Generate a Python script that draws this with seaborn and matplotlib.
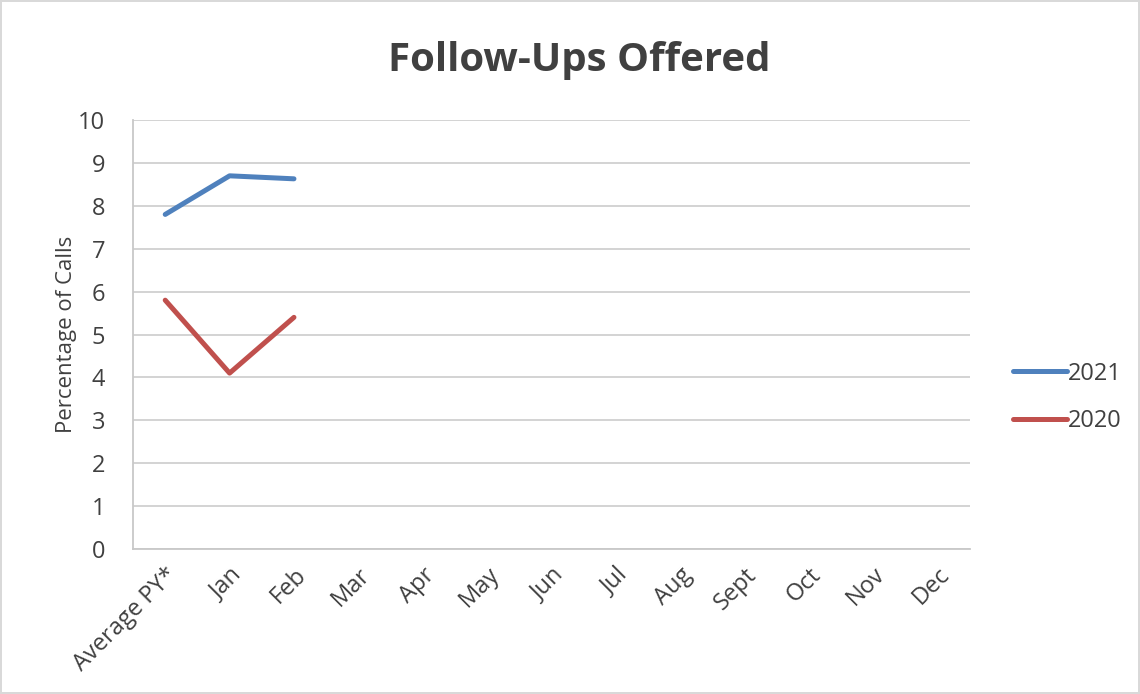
import matplotlib
matplotlib.use("Agg")
import matplotlib.pyplot as plt
import pandas as pd
import seaborn as sns

# Data
months = ["Average PY*", "Jan", "Feb", "Mar", "Apr", "May", "Jun",
          "Jul", "Aug", "Sept", "Oct", "Nov", "Dec"]
values_2021 = [7.8, 8.7, 8.63]
values_2020 = [5.8, 4.1, 5.4]

sns.set_theme(style="white")
plt.rcParams["font.family"] = ["Open Sans", "DejaVu Sans"]

df = pd.concat([
    pd.DataFrame({"month": months[:len(values_2021)], "x": range(len(values_2021)),
                  "value": values_2021, "year": "2021"}),
    pd.DataFrame({"month": months[:len(values_2020)], "x": range(len(values_2020)),
                  "value": values_2020, "year": "2020"}),
])

fig = plt.figure(figsize=(11.4, 6.94), dpi=100)
fig.patch.set_edgecolor("#d9d9d9")
fig.patch.set_linewidth(1.5)
ax = fig.add_axes([0.1167, 0.209, 0.734, 0.618])

sns.lineplot(data=df, x="x", y="value", hue="year",
             palette={"2021": "#4f81bd", "2020": "#c0504d"},
             linewidth=3.6, ax=ax, legend=True)
for line in ax.get_lines():
    line.set_solid_capstyle("round")

ax.set_xlim(-0.5, len(months) - 0.5)
ax.set_ylim(0, 10)
ax.set_xticks(range(len(months)))
ax.set_xticklabels(months, rotation=45, ha="right", rotation_mode="anchor",
                   fontsize=17, color="#404040")
ax.set_yticks(range(0, 11))
ax.tick_params(axis="y", labelsize=17, labelcolor="#404040", length=0, pad=20)
ax.tick_params(axis="x", length=0, pad=10)
ax.yaxis.grid(True, color="#d0d0d0", linewidth=1.3)
ax.xaxis.grid(False)
for side in ["top", "right"]:
    ax.spines[side].set_visible(False)
for side in ["left", "bottom"]:
    ax.spines[side].set_color("#c8c8c8")
    ax.spines[side].set_linewidth(1.3)

ax.set_xlabel("")
ax.set_ylabel("Percentage of Calls", fontsize=16, color="#404040", labelpad=1)
fig.text(0.508, 0.913, "Follow-Ups Offered", fontsize=29, fontweight="bold",
         color="#404040", ha="center", va="center")

handles, labels = ax.get_legend_handles_labels()
leg = ax.legend(handles, labels, loc="center left", bbox_to_anchor=(1.026, 0.353),
                frameon=False, fontsize=17, handlelength=2.3, labelspacing=1.0,
                handletextpad=0.05)
for t in leg.get_texts():
    t.set_color("#404040")
for h in leg.get_lines():
    h.set_linewidth(3.6)
    h.set_solid_capstyle("round")

fig.savefig("out.png", dpi=100, edgecolor=fig.get_edgecolor())
